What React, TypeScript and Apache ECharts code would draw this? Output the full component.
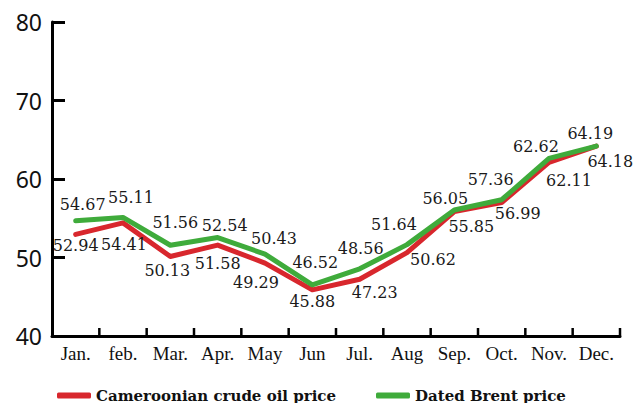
import React, { useEffect, useRef } from "react";
import * as echarts from "echarts";

const months = ["Jan.", "feb.", "Mar.", "Apr.", "May", "Jun", "Jul.", "Aug", "Sep.", "Oct.", "Nov.", "Dec."];
const cameroonPrice = [52.94, 54.41, 50.13, 51.58, 49.29, 45.88, 47.23, 50.62, 55.85, 56.99, 62.11, 64.18];
const brentPrice = [54.67, 55.11, 51.56, 52.54, 50.43, 46.52, 48.56, 51.64, 56.05, 57.36, 62.62, 64.19];
const yTicks = [40, 50, 60, 70, 80];

const cameroonLabelOffsets = [[0, 11], [1, 22], [-3, 14], [0, 18], [-9, 19], [0, 12], [15, 13], [26, 7], [17, 15], [16, 11], [20, 18], [14, 15]];
const brentLabelOffsets = [[7, -16], [8, -20], [5, -23], [7, -12], [9, -16], [3, -22], [1, -20], [-13, -20], [-9, -12], [-11, -20], [-13, -12], [-6, -13]];

const RED = "#d8272d";
const GREEN = "#3fab3b";

const TICK_LEN = 8;

export default function App() {
  const ref = useRef<HTMLDivElement>(null);
  useEffect(() => {
    const chart = echarts.init(ref.current!, null, { renderer: "svg" });
    const labelStyle = {
      show: true,
      position: "inside" as const,
      fontFamily: "DejaVu Serif",
      fontSize: 16,
      color: "#1a1a1a",
    };
    const legendText = { fontFamily: "DejaVu Serif", fontWeight: "bold" as const, fontSize: 15, color: "#111" };
    const boundaryTicks = months.map((_, i) => [i + 1, yTicks[0]]);
    chart.setOption({
      animation: false,
      backgroundColor: "#ffffff",
      grid: { left: 52, right: 13, top: 22, bottom: 67, containLabel: false },
      legend: [
        {
          data: ["Cameroonian crude oil price"],
          left: 52,
          top: 383,
          icon: "roundRect",
          itemWidth: 34,
          itemHeight: 6,
          textStyle: legendText,
        },
        {
          data: ["Dated Brent price"],
          left: 371,
          top: 383,
          icon: "roundRect",
          itemWidth: 34,
          itemHeight: 6,
          textStyle: legendText,
        },
      ],
      xAxis: [
        {
          type: "category",
          data: months,
          boundaryGap: true,
          axisLine: { show: true, onZero: false, lineStyle: { color: "#000", width: 3 } },
          axisTick: { show: false },
          axisLabel: { fontFamily: "Liberation Serif", fontSize: 19, color: "#111", margin: 8, interval: 0 },
        },
        {
          type: "value",
          min: 0,
          max: months.length,
          interval: 1,
          show: false,
        },
      ],
      yAxis: {
        type: "value",
        min: yTicks[0],
        max: yTicks[yTicks.length - 1],
        interval: 10,
        splitLine: { show: false },
        axisLine: { show: true, lineStyle: { color: "#000", width: 3 } },
        axisTick: { show: true, inside: true, length: 13, lineStyle: { color: "#000", width: 3 } },
        axisLabel: { fontFamily: "Noto Sans", fontSize: 23, color: "#111", margin: 10 },
      },
      series: [
        {
          name: "Cameroonian crude oil price",
          type: "line",
          xAxisIndex: 0,
          data: cameroonPrice.map((v, i) => ({
            value: v,
            label: { ...labelStyle, offset: cameroonLabelOffsets[i] },
          })),
          symbol: "circle",
          symbolSize: 0,
          showSymbol: true,
          lineStyle: { color: RED, width: 5, cap: "round", join: "round" },
          itemStyle: { color: RED },
          z: 2,
        },
        {
          name: "Dated Brent price",
          type: "line",
          xAxisIndex: 0,
          data: brentPrice.map((v, i) => ({
            value: v,
            label: { ...labelStyle, offset: brentLabelOffsets[i] },
          })),
          symbol: "circle",
          symbolSize: 0,
          showSymbol: true,
          lineStyle: { color: GREEN, width: 5, cap: "round", join: "round" },
          itemStyle: { color: GREEN },
          z: 3,
        },
        {
          name: "axis ticks",
          type: "scatter",
          xAxisIndex: 1,
          data: boundaryTicks,
          symbol: "rect",
          symbolSize: [2.5, TICK_LEN],
          symbolOffset: [0, -TICK_LEN / 2],
          itemStyle: { color: "#000", opacity: 1 },
          silent: true,
          clip: false,
          z: 4,
        },
      ],
    });
    return () => chart.dispose();
  }, []);
  return <div ref={ref} style={{ width: 633, height: 403, position: "absolute", left: 0, top: 0 }} />;
}
